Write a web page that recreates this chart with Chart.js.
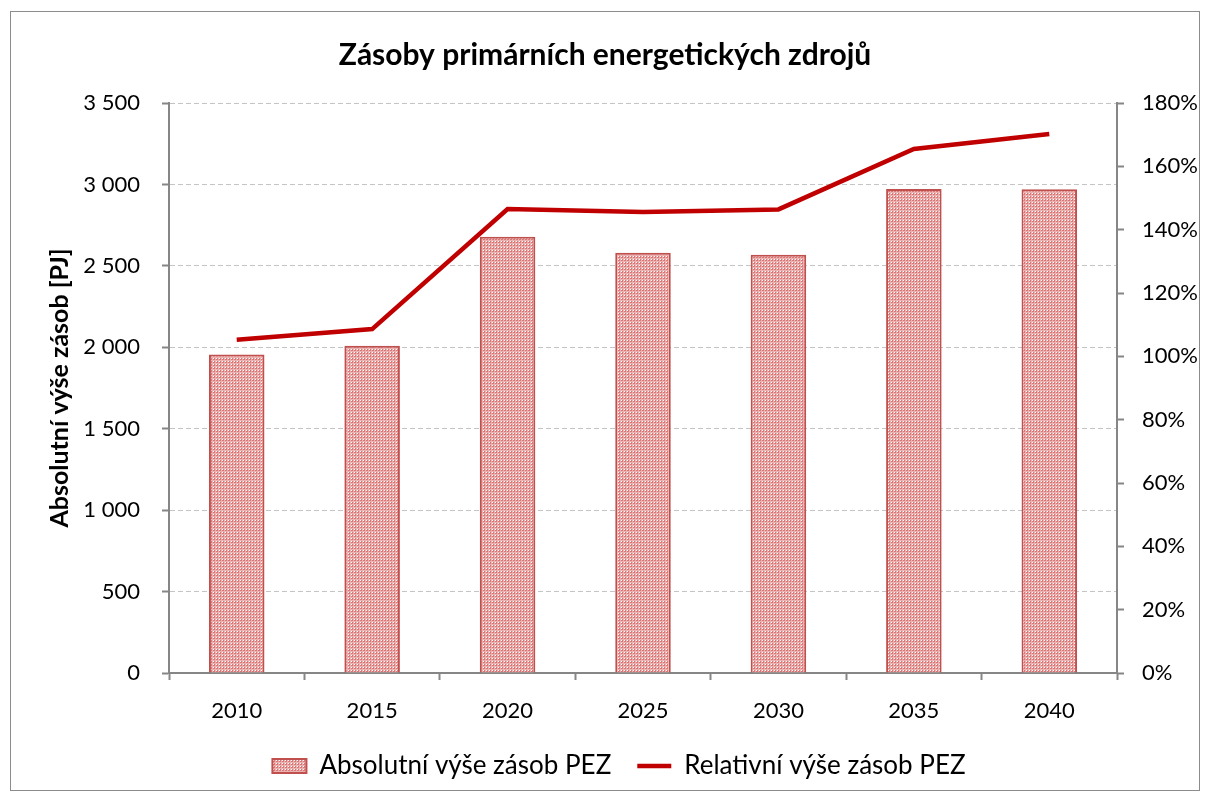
<!DOCTYPE html>
<html>
<head>
<meta charset="utf-8">
<script src="https://cdn.jsdelivr.net/npm/chart.js@4"></script>
<style>
    html, body { margin: 0; padding: 0; background: #fff; }
    #frame {
        position: absolute; left: 10px; top: 11px;
        width: 1190px; height: 780px;
        border: 1px solid #8c8c8c; box-sizing: border-box;
    }
    #chart { display: block; }
</style>
</head>
<body>
<div id="frame"><canvas id="chart" width="1188" height="778"></canvas></div>
<script>
// Data
const years = ['2010', '2015', '2020', '2025', '2030', '2035', '2040'];
const absoluteReserves = [1955, 2010, 2678, 2580, 2568, 2972, 2970]; // PJ
const relativeReserves = [105.2, 108.6, 146.5, 145.6, 146.4, 165.5, 170.2]; // %

const FONT = 'Lato, "Open Sans", sans-serif';

// Dotted pink fill like the Excel pattern
function makePattern() {
    const tile = document.createElement('canvas');
    tile.width = 3;
    tile.height = 3;
    const t = tile.getContext('2d');
    t.fillStyle = 'rgb(218, 120, 119)';
    t.fillRect(0, 0, 3, 3);
    t.fillStyle = 'rgb(236, 178, 177)';
    t.fillRect(0, 0, 3, 1);
    t.fillRect(0, 0, 1, 3);
    t.fillStyle = '#ffffff';
    t.fillRect(1, 1, 1, 1);
    return t.createPattern(tile, 'repeat');
}

const canvas = document.getElementById('chart');
const ctx = canvas.getContext('2d');
const barFill = makePattern();

new Chart(ctx, {
    type: 'bar',
    data: {
        labels: years,
        datasets: [{
            type: 'line',
            label: 'Relativní výše zásob PEZ',
            data: relativeReserves,
            yAxisID: 'y1',
            borderColor: '#c00000',
            backgroundColor: '#c00000',
            borderWidth: 4.5,
            pointRadius: 0,
            tension: 0,
            pointStyle: 'line',
            order: 0
        }, {
            label: 'Absolutní výše zásob PEZ',
            data: absoluteReserves,
            yAxisID: 'y',
            backgroundColor: barFill,
            borderColor: '#c0504d',
            borderWidth: 2,
            barPercentage: 0.41,
            categoryPercentage: 1,
            pointStyle: 'rect',
            order: 1
        }]
    },
    options: {
        responsive: false,
        animation: false,
        layout: {
            padding: { left: 0, right: 0, top: 0, bottom: 1 }
        },
        plugins: {
            title: {
                display: true,
                text: 'Zásoby primárních energetických zdrojů',
                color: '#000',
                font: { family: FONT, size: 30, weight: 'bold' },
                padding: { top: 25, bottom: 30 }
            },
            legend: {
                position: 'bottom',
                reverse: true,
                labels: {
                    color: '#000',
                    font: { family: FONT, size: 26 },
                    usePointStyle: true,
                    pointStyleWidth: 34,
                    boxHeight: 14,
                    padding: 26
                }
            },
            tooltip: { enabled: false }
        },
        scales: {
            x: {
                grid: {
                    drawOnChartArea: false,
                    drawTicks: true,
                    tickLength: 7,
                    tickColor: '#868686',
                    tickWidth: 2,
                    offset: true
                },
                border: { color: '#868686', width: 2 },
                ticks: {
                    color: '#000',
                    font: { family: FONT, size: 22 },
                    padding: 18
                },
                afterFit: (scale) => { scale.height = 54; }
            },
            y: {
                position: 'left',
                min: 0,
                max: 3500,
                ticks: {
                    stepSize: 500,
                    color: '#000',
                    font: { family: FONT, size: 22 },
                    padding: 22,
                    callback: (value) => value >= 1000
                        ? Math.floor(value / 1000) + ' ' + String(value % 1000).padStart(3, '0')
                        : String(value)
                },
                grid: {
                    color: '#c4c4c4',
                    lineWidth: 1,
                    tickLength: 7,
                    tickColor: '#868686',
                    tickBorderDash: [],
                    tickWidth: 2
                },
                border: { color: '#868686', width: 2, dash: [5, 3] },
                title: {
                    display: true,
                    text: 'Absolutní výše zásob [PJ]',
                    color: '#000',
                    font: { family: FONT, size: 25, weight: 'bold' },
                    padding: { top: 34, bottom: 0 }
                },
                afterFit: (scale) => { scale.width = 158; }
            },
            y1: {
                position: 'right',
                min: 0,
                max: 180,
                ticks: {
                    stepSize: 20,
                    color: '#000',
                    font: { family: FONT, size: 22 },
                    padding: 18,
                    callback: (value) => value + '%'
                },
                grid: {
                    drawOnChartArea: false,
                    tickLength: 7,
                    tickColor: '#868686',
                    tickWidth: 2
                },
                border: { color: '#868686', width: 2 },
                afterFit: (scale) => { scale.width = 82; }
            }
        }
    },
    plugins: [{
        // legend sits a little right of centre in the original
        id: 'legendShift',
        afterLayout(chart) {
            chart.legend.left += 14;
            chart.legend.right += 14;
        }
    }]
});
</script>
</body>
</html>
